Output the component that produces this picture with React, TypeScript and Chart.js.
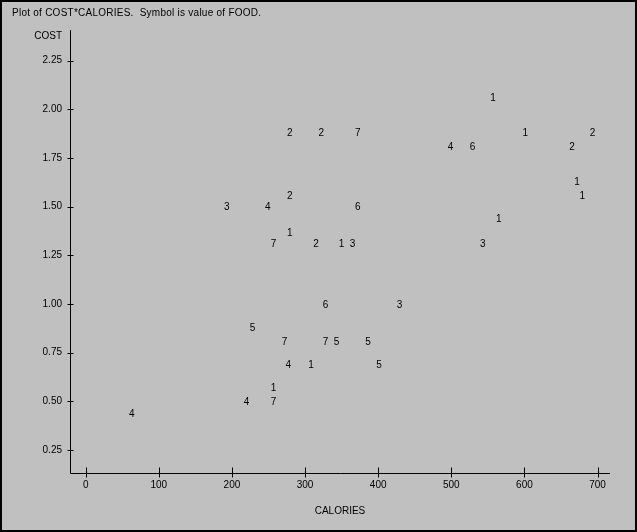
import Chart, { Plugin } from 'chart.js/auto';
import { useEffect, useRef } from 'react';

// values (FOOD is the digit drawn at each point)
const calories = [
  63, 220, 257, 257, 277, 308, 401, 228, 272, 328, 343, 386,
  328, 429, 257, 279, 315, 350, 365, 193, 249, 372, 279, 279,
  322, 372, 557, 601, 693, 499, 529, 665, 672, 679, 565, 543,
];
const cost = [
  0.44, 0.5, 0.5, 0.57, 0.69, 0.69, 0.69, 0.88, 0.81, 0.81, 0.81, 0.81,
  1.0, 1.0, 1.31, 1.37, 1.31, 1.31, 1.31, 1.5, 1.5, 1.5, 1.56, 1.88,
  1.88, 1.88, 2.06, 1.88, 1.88, 1.81, 1.81, 1.81, 1.63, 1.56, 1.44, 1.31,
];
const food = [
  4, 4, 7, 1, 4, 1, 5, 5, 7, 7, 5, 5,
  6, 3, 7, 1, 2, 1, 3, 3, 4, 6, 2, 2,
  2, 7, 1, 1, 2, 4, 6, 2, 1, 1, 1, 3,
];
const xTicks = [0, 100, 200, 300, 400, 500, 600, 700];
const yTicks = [0.25, 0.5, 0.75, 1.0, 1.25, 1.5, 1.75, 2.0, 2.25];

const FONT = 'Liberation Sans, Arial, sans-serif';

const plotPlugin: Plugin<'scatter'> = {
  id: 'sasPlot',
  afterDraw(chart) {
    const { ctx, chartArea } = chart;
    const xs = chart.scales.x;
    const ys = chart.scales.y;
    const left = Math.round(chartArea.left) + 0.5;
    const bottom = Math.round(chartArea.bottom) + 0.5;

    ctx.save();
    ctx.strokeStyle = '#000';
    ctx.lineWidth = 1;
    ctx.beginPath();
    // axes
    ctx.moveTo(left, Math.round(chartArea.top));
    ctx.lineTo(left, bottom);
    ctx.lineTo(Math.round(chartArea.right), bottom);
    // tick marks crossing the axes
    yTicks.forEach((v) => {
      const y = Math.round(ys.getPixelForValue(v)) + 0.5;
      ctx.moveTo(left - 3, y);
      ctx.lineTo(left + 3, y);
    });
    xTicks.forEach((v) => {
      const x = Math.round(xs.getPixelForValue(v)) + 0.5;
      ctx.moveTo(x, bottom - 6);
      ctx.lineTo(x, bottom + 4);
    });
    ctx.stroke();

    ctx.fillStyle = '#000';
    ctx.font = `10px ${FONT}`;
    // title
    ctx.textAlign = 'left';
    ctx.textBaseline = 'alphabetic';
    (ctx as any).letterSpacing = '0.25px';
    ctx.fillText('Plot of COST*CALORIES.  Symbol is value of FOOD.', 10, 14);
    (ctx as any).letterSpacing = '0px';
    // y label at the top of the axis
    ctx.textAlign = 'right';
    ctx.fillText('COST', chartArea.left - 8, chartArea.top + 9);

    // symbols
    ctx.textAlign = 'center';
    const meta = chart.getDatasetMeta(0);
    meta.data.forEach((pt, i) => {
      ctx.fillText(String(food[i]), pt.x, pt.y + 3.6);
    });
    ctx.restore();
  },
};

const App = () => {
  const chartRef = useRef<HTMLCanvasElement | null>(null);

  useEffect(() => {
    document.body.style.margin = '0';
    if (!chartRef.current) return;
    const ctx = chartRef.current.getContext('2d');
    if (!ctx) return;

    const chartInstance = new Chart(ctx, {
      type: 'scatter',
      data: {
        datasets: [
          {
            label: 'FOOD',
            data: calories.map((c, i) => ({ x: c, y: cost[i] })),
            pointRadius: 0,
            pointHoverRadius: 0,
          },
        ],
      },
      options: {
        animation: false,
        responsive: false,
        events: [],
        layout: { padding: { top: 28, right: 25, left: 28, bottom: 11 } },
        plugins: {
          legend: { display: false },
          tooltip: { enabled: false },
        },
        scales: {
          x: {
            type: 'linear',
            min: -21.5,
            max: 717,
            grid: { display: false, drawTicks: false },
            border: { display: false },
            afterBuildTicks: (scale) => {
              scale.ticks = xTicks.map((v) => ({ value: v }));
            },
            afterFit: (scale) => {
              scale.height = 46;
            },
            ticks: {
              color: '#000',
              padding: 6,
              maxRotation: 0,
              font: { family: FONT, size: 10 },
              callback: (v) => String(v),
            },
            title: {
              display: true,
              text: 'CALORIES',
              color: '#000',
              font: { family: FONT, size: 10 },
              padding: { top: 0, bottom: 2 },
            },
          },
          y: {
            type: 'linear',
            min: 0.132,
            max: 2.407,
            grid: { display: false, drawTicks: false },
            border: { display: false },
            afterBuildTicks: (scale) => {
              scale.ticks = yTicks.map((v) => ({ value: v }));
            },
            afterFit: (scale) => {
              scale.width = 40;
            },
            ticks: {
              color: '#000',
              padding: 8,
              font: { family: FONT, size: 10 },
              callback: (v) => Number(v).toFixed(2),
            },
          },
        },
      },
      plugins: [plotPlugin],
    });

    return () => {
      chartInstance.destroy();
    };
  }, []);

  return (
    <div
      style={{
        width: 637,
        height: 532,
        boxSizing: 'border-box',
        border: '2px solid #000',
        background: '#c0c0c0',
      }}
    >
      <canvas ref={chartRef} width={633} height={528} style={{ display: 'block' }}></canvas>
    </div>
  );
};

export default App;
